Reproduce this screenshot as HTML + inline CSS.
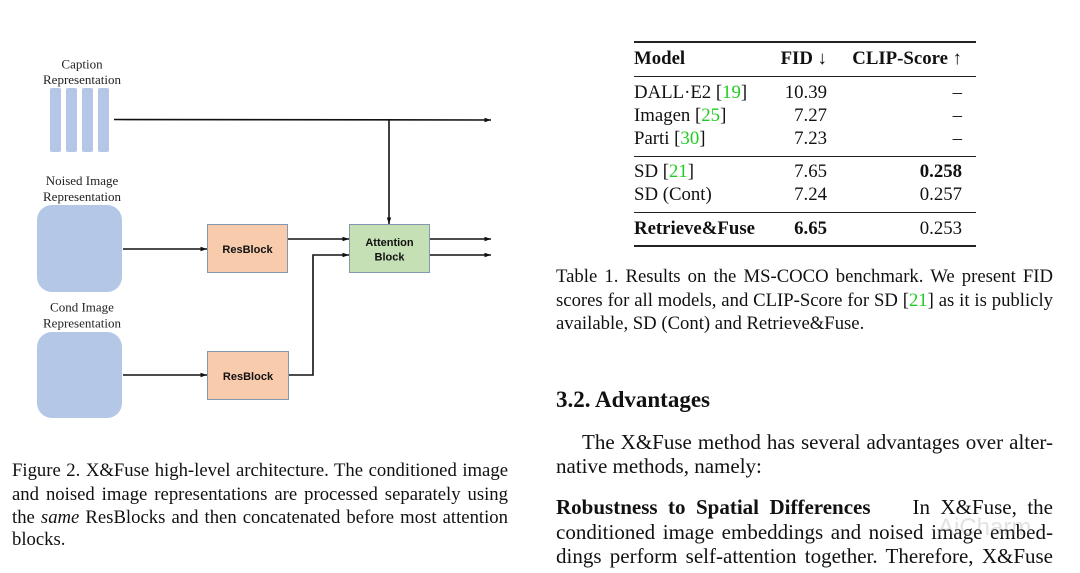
<!DOCTYPE html>
<html><head><meta charset="utf-8">
<style>
html,body{margin:0;padding:0;background:#fff;}
body{width:1080px;height:573px;position:relative;overflow:hidden;font-family:"Liberation Serif","Times New Roman",serif;color:#111;}
.a{position:absolute;white-space:nowrap;}
.j{position:absolute;white-space:nowrap;text-align:justify;text-align-last:justify;}
.cap{font-size:18.7px;line-height:24px;}
.bd{font-size:21px;line-height:24px;}
.tb{font-size:18.8px;line-height:22px;}
.g{color:#22cc22;}
.r{text-align:right;}
.hl{position:absolute;background:#222;left:634px;width:342px;}
</style></head><body>

<svg class="a" style="left:0;top:0" width="540" height="440" viewBox="0 0 540 440">
  <defs>
    <marker id="ar" markerWidth="7" markerHeight="6" refX="6.5" refY="3" orient="auto" markerUnits="userSpaceOnUse">
      <path d="M0,0.8 L6.5,3 L0,5.2 z" fill="#111"/>
    </marker>
  </defs>
  <!-- caption bars -->
  <rect x="50" y="88" width="11" height="64" rx="2" fill="#b4c7e7"/>
  <rect x="66" y="88" width="11" height="64" rx="2" fill="#b4c7e7"/>
  <rect x="82" y="88" width="11" height="64" rx="2" fill="#b4c7e7"/>
  <rect x="98" y="88" width="11" height="64" rx="2" fill="#b4c7e7"/>
  <!-- image boxes -->
  <rect x="37" y="205" width="85" height="87" rx="15" fill="#b4c7e7"/>
  <rect x="37" y="332" width="85" height="86" rx="15" fill="#b4c7e7"/>
  <!-- resblocks -->
  <rect x="207.5" y="224.5" width="80" height="48" fill="#f8cbad" stroke="#8497b0" stroke-width="1"/>
  <rect x="207.5" y="351.5" width="81" height="48" fill="#f8cbad" stroke="#8497b0" stroke-width="1"/>
  <!-- attention -->
  <rect x="349.5" y="224.5" width="80" height="48" fill="#c5e0b4" stroke="#8497b0" stroke-width="1"/>
  <!-- lines -->
  <g stroke="#111" stroke-width="1.6" fill="none">
    <line x1="114" y1="119.5" x2="491" y2="120" marker-end="url(#ar)"/>
    <line x1="389" y1="119.5" x2="389" y2="224" marker-end="url(#ar)"/>
    <line x1="123" y1="249" x2="207" y2="249" marker-end="url(#ar)"/>
    <line x1="288" y1="239" x2="349" y2="239" marker-end="url(#ar)"/>
    <line x1="123" y1="375" x2="207" y2="375" marker-end="url(#ar)"/>
    <polyline points="289,375 313,375 313,255 349,255" marker-end="url(#ar)"/>
    <line x1="430" y1="239" x2="491" y2="239" marker-end="url(#ar)"/>
    <line x1="430" y1="255" x2="491" y2="255" marker-end="url(#ar)"/>
  </g>
  <!-- labels -->
  <g font-family="Liberation Serif, serif" font-size="13" fill="#222" text-anchor="middle">
    <text x="82" y="68.5">Caption</text>
    <text x="82" y="84">Representation</text>
    <text x="82" y="185">Noised Image</text>
    <text x="82" y="201">Representation</text>
    <text x="82" y="311.5">Cond Image</text>
    <text x="82" y="327.5">Representation</text>
  </g>
  <g font-family="Liberation Sans, sans-serif" font-size="11" font-weight="bold" fill="#111" text-anchor="middle">
    <text x="247.5" y="253">ResBlock</text>
    <text x="248" y="380">ResBlock</text>
    <text x="389.5" y="246">Attention</text>
    <text x="389.5" y="260.5">Block</text>
  </g>
</svg>

<!-- figure caption -->
<div class="j cap" style="left:12px;top:459px;width:496px;">Figure 2. X&amp;Fuse high-level architecture. The conditioned image</div>
<div class="j cap" style="left:12px;top:483px;width:496px;">and noised image representations are processed separately using</div>
<div class="j cap" style="left:12px;top:506px;width:496px;">the <i>same</i> ResBlocks and then concatenated before most attention</div>
<div class="a cap" style="left:12px;top:528px;">blocks.</div>

<!-- table -->
<div class="hl" style="top:41px;height:2px;"></div>
<div class="hl" style="top:75.5px;height:1.2px;"></div>
<div class="hl" style="top:155.5px;height:1.2px;"></div>
<div class="hl" style="top:211.5px;height:1.2px;"></div>
<div class="hl" style="top:245px;height:2px;"></div>

<div class="a tb" style="left:634px;top:48px;font-weight:bold;">Model</div>
<div class="a tb r" style="left:740px;width:87px;top:48px;font-weight:bold;">FID ↓</div>
<div class="a tb r" style="left:840px;width:122px;top:48px;font-weight:bold;">CLIP-Score ↑</div>

<div class="a tb" style="left:634px;top:82px;">DALL·E2 [<span class="g">19</span>]</div>
<div class="a tb r" style="left:740px;width:87px;top:82px;">10.39</div>
<div class="a tb r" style="left:840px;width:122px;top:82px;">–</div>

<div class="a tb" style="left:634px;top:105px;">Imagen [<span class="g">25</span>]</div>
<div class="a tb r" style="left:740px;width:87px;top:105px;">7.27</div>
<div class="a tb r" style="left:840px;width:122px;top:105px;">–</div>

<div class="a tb" style="left:634px;top:128px;">Parti [<span class="g">30</span>]</div>
<div class="a tb r" style="left:740px;width:87px;top:128px;">7.23</div>
<div class="a tb r" style="left:840px;width:122px;top:128px;">–</div>

<div class="a tb" style="left:634px;top:161px;">SD [<span class="g">21</span>]</div>
<div class="a tb r" style="left:740px;width:87px;top:161px;">7.65</div>
<div class="a tb r" style="left:840px;width:122px;top:161px;font-weight:bold;">0.258</div>

<div class="a tb" style="left:634px;top:184px;">SD (Cont)</div>
<div class="a tb r" style="left:740px;width:87px;top:184px;">7.24</div>
<div class="a tb r" style="left:840px;width:122px;top:184px;">0.257</div>

<div class="a tb" style="left:634px;top:218px;font-weight:bold;">Retrieve&amp;Fuse</div>
<div class="a tb r" style="left:740px;width:87px;top:218px;font-weight:bold;">6.65</div>
<div class="a tb r" style="left:840px;width:122px;top:218px;">0.253</div>

<!-- table caption -->
<div class="j cap" style="left:556px;top:265px;width:497px;">Table 1. Results on the MS-COCO benchmark. We present FID</div>
<div class="j cap" style="left:556px;top:289px;width:497px;">scores for all models, and CLIP-Score for SD [<span class="g">21</span>] as it is publicly</div>
<div class="a cap" style="left:556px;top:312px;">available, SD (Cont) and Retrieve&amp;Fuse.</div>

<!-- section -->
<div class="a" style="left:556px;top:386px;font-size:23px;line-height:28px;font-weight:bold;">3.2. Advantages</div>

<div class="j bd" style="left:582px;top:430px;width:471px;">The X&amp;Fuse method has several advantages over alter-</div>
<div class="a bd" style="left:556px;top:454px;">native methods, namely:</div>
<div class="j bd" style="left:556px;top:495px;width:497px;"><b>Robustness to Spatial Differences</b>&nbsp;&nbsp;&nbsp; In X&amp;Fuse, the</div>
<div class="j bd" style="left:556px;top:520px;width:497px;">conditioned image embeddings and noised image embed-</div>
<div class="j bd" style="left:556px;top:544px;width:497px;">dings perform self-attention together. Therefore, X&amp;Fuse</div>

<!-- faint watermark -->
<div class="a" style="left:938px;top:514px;font-family:'Liberation Sans',sans-serif;font-size:24px;line-height:28px;color:rgba(160,160,160,0.3);">AiCharm</div>

</body></html>
